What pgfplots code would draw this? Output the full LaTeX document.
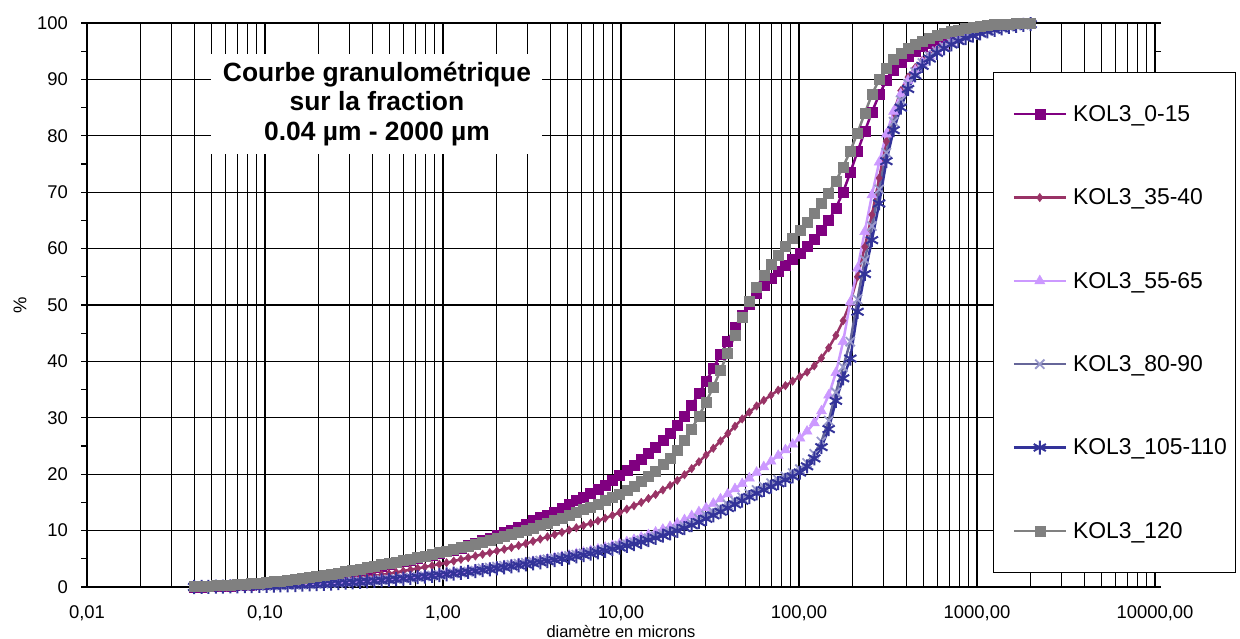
\documentclass[border=0pt]{standalone}
\usepackage{fontspec}
\setmainfont{Liberation Sans}
\usepackage{pgfplots}
\usepackage{pgfplotstable}
\pgfplotsset{compat=1.18}
\definecolor{c1}{HTML}{800080}
\definecolor{c2}{HTML}{993366}
\definecolor{c3}{HTML}{CC99FF}
\definecolor{c4}{HTML}{666699}
\definecolor{c4m}{HTML}{9999CC}
\definecolor{c5}{HTML}{333399}
\definecolor{c6}{HTML}{808080}

\pgfplotstableread{
x P M L X B G
0.040 0.00 0.00 0.00 0.05 0.00 0.10
0.044 0.03 0.02 0.02 0.07 0.02 0.15
0.048 0.06 0.04 0.04 0.09 0.04 0.20
0.053 0.09 0.07 0.06 0.11 0.06 0.26
0.058 0.13 0.10 0.08 0.13 0.08 0.32
0.064 0.18 0.13 0.10 0.15 0.10 0.39
0.070 0.24 0.16 0.12 0.17 0.12 0.46
0.077 0.31 0.20 0.14 0.19 0.14 0.54
0.084 0.38 0.23 0.16 0.21 0.16 0.62
0.093 0.47 0.27 0.18 0.23 0.18 0.72
0.102 0.57 0.31 0.21 0.25 0.20 0.83
0.112 0.68 0.36 0.24 0.28 0.23 0.95
0.122 0.80 0.42 0.28 0.32 0.27 1.08
0.134 0.93 0.49 0.32 0.36 0.31 1.22
0.148 1.08 0.56 0.37 0.40 0.35 1.38
0.162 1.24 0.64 0.42 0.45 0.40 1.54
0.178 1.41 0.72 0.47 0.50 0.45 1.72
0.195 1.60 0.81 0.53 0.55 0.50 1.91
0.214 1.80 0.90 0.59 0.61 0.56 2.10
0.235 2.01 1.00 0.66 0.67 0.62 2.31
0.258 2.24 1.12 0.73 0.74 0.69 2.52
0.284 2.47 1.26 0.81 0.81 0.76 2.75
0.311 2.72 1.42 0.89 0.89 0.84 2.98
0.342 2.97 1.60 0.98 0.97 0.92 3.22
0.375 3.23 1.78 1.07 1.05 1.00 3.46
0.412 3.49 1.97 1.16 1.14 1.09 3.70
0.452 3.76 2.17 1.26 1.23 1.18 3.95
0.496 4.03 2.38 1.37 1.33 1.28 4.20
0.545 4.30 2.60 1.48 1.44 1.39 4.46
0.598 4.56 2.83 1.60 1.55 1.50 4.72
0.656 4.83 3.06 1.72 1.66 1.61 4.98
0.721 5.10 3.30 1.85 1.78 1.73 5.25
0.791 5.38 3.55 1.98 1.90 1.85 5.52
0.868 5.67 3.80 2.12 2.03 1.98 5.80
0.953 5.97 4.05 2.26 2.16 2.11 6.08
1.047 6.28 4.30 2.40 2.29 2.24 6.37
1.149 6.60 4.60 2.55 2.43 2.38 6.66
1.261 6.95 4.90 2.70 2.57 2.52 6.96
1.385 7.35 5.20 2.86 2.72 2.67 7.27
1.520 7.80 5.50 3.02 2.87 2.82 7.60
1.669 8.25 5.80 3.19 3.28 2.98 7.95
1.832 8.70 6.10 3.36 3.44 3.14 8.32
2.010 9.20 6.40 3.54 3.60 3.30 8.70
2.207 9.65 6.70 3.72 3.77 3.47 9.05
2.423 10.10 7.00 3.90 3.94 3.64 9.40
2.660 10.60 7.35 4.10 4.12 3.82 9.75
2.920 11.20 7.70 4.30 4.30 4.00 10.10
3.205 11.80 8.10 4.50 4.49 4.19 10.50
3.519 12.30 8.50 4.70 4.68 4.38 10.90
3.863 12.80 8.90 4.92 4.88 4.58 11.30
4.240 13.30 9.30 5.15 5.08 4.78 11.75
4.655 13.90 9.70 5.38 5.29 4.99 12.20
5.110 14.60 10.10 5.62 5.50 5.20 12.70
5.610 15.30 10.50 5.87 5.72 5.42 13.20
6.158 16.00 10.90 6.13 5.95 5.65 13.70
6.760 16.60 11.30 6.40 6.20 5.90 14.20
7.421 17.30 11.75 6.70 6.45 6.15 14.75
8.147 18.00 12.20 7.00 6.72 6.42 15.30
8.944 18.90 12.70 7.30 7.00 6.70 15.90
9.819 19.80 13.20 7.65 7.30 7.00 16.50
10.78 20.70 13.80 8.00 7.60 7.30 17.20
11.83 21.60 14.40 8.40 7.92 7.62 17.90
12.99 22.60 15.00 8.80 8.26 7.96 18.70
14.26 23.70 15.70 9.25 8.62 8.32 19.60
15.65 24.80 16.40 9.70 9.00 8.70 20.60
17.18 26.00 17.20 10.20 9.40 9.10 21.70
18.86 27.30 18.00 10.70 9.82 9.52 22.90
20.71 28.70 18.90 11.30 10.27 9.97 24.30
22.73 30.30 19.90 11.90 10.75 10.45 26.00
24.95 32.20 21.00 12.60 11.25 10.95 28.00
27.39 34.30 22.20 13.30 12.10 11.50 30.30
30.07 36.50 23.40 14.00 12.70 12.10 32.80
33.01 38.80 24.60 14.80 13.30 12.70 35.50
36.24 41.20 25.90 15.60 13.95 13.35 38.40
39.78 43.60 27.20 16.50 14.60 14.00 41.50
43.67 46.00 28.50 17.40 15.25 14.65 44.70
47.94 48.20 29.80 18.30 15.90 15.30 47.80
52.62 50.20 31.00 19.30 16.55 15.95 50.60
57.77 52.00 32.10 20.30 17.20 16.60 53.10
63.41 53.50 33.10 21.30 17.80 17.20 55.30
69.61 54.80 34.00 22.30 18.40 17.80 57.20
76.42 55.90 34.90 23.30 19.00 18.40 58.90
83.89 57.00 35.70 24.30 19.60 19.00 60.40
92.09 58.10 36.50 25.30 20.20 19.60 61.80
101.1 59.20 37.30 26.40 20.90 20.30 63.20
111.0 60.40 38.10 27.60 22.00 21.40 64.70
121.8 61.70 39.20 29.10 23.60 22.80 66.30
133.7 63.20 40.60 31.20 25.80 24.80 68.00
146.8 65.00 42.40 34.00 29.50 28.00 69.90
161.2 67.20 44.60 38.00 34.50 33.00 72.00
176.9 70.00 47.20 43.50 39.00 37.00 74.50
194.2 73.50 50.50 50.50 43.50 40.50 77.30
213.2 77.20 55.00 56.50 51.00 48.80 80.50
234.1 80.80 60.30 63.00 58.00 55.50 84.00
256.9 84.20 66.00 69.50 64.00 61.50 87.30
282.1 87.30 72.50 75.30 70.50 68.00 90.00
309.6 89.80 79.00 80.30 77.00 75.50 92.00
339.9 91.60 84.20 84.30 82.50 81.00 93.50
373.1 93.00 88.00 87.40 86.30 85.00 94.60
409.6 94.10 90.40 89.80 89.20 88.30 95.50
449.7 95.00 92.10 91.60 91.30 90.70 96.20
493.6 95.80 93.40 93.00 92.90 92.40 96.80
541.9 96.40 94.40 94.10 94.10 93.70 97.30
594.9 97.00 95.30 95.00 95.00 94.70 97.80
653.0 97.50 96.00 95.80 95.80 95.50 98.20
716.9 97.90 96.60 96.50 96.50 96.20 98.50
786.9 98.30 97.20 97.10 97.00 96.80 98.80
863.9 98.70 97.70 97.60 97.50 97.30 99.05
948.3 99.00 98.10 98.00 97.90 97.75 99.25
1041 99.25 98.50 98.40 98.30 98.15 99.45
1143 99.45 98.85 98.80 98.60 98.50 99.60
1255 99.60 99.15 99.10 98.90 98.80 99.70
1377 99.70 99.40 99.35 99.15 99.05 99.80
1512 99.80 99.60 99.55 99.35 99.30 99.85
1660 99.90 99.75 99.70 99.55 99.50 99.90
1822 99.95 99.90 99.85 99.70 99.65 99.95
2000 100.00 100.00 99.95 99.85 99.80 100.00
}\data

\begin{document}
\begin{tikzpicture}
\begin{axis}[
  at={(0bp,0bp)}, anchor=south west,
  width=1068bp, height=564bp, scale only axis,
  xmode=log, log basis x=10,
  xmin=0.01, xmax=10000, ymin=0, ymax=100,
  xtick={0.01,0.1,1,10,100,1000,10000},
  xticklabels={{0,01},{0,10},{1,00},{10,00},{100,00},{1000,00},{10000,00}},
  minor xtick={0.02,0.03,0.04,0.05,0.06,0.07,0.08,0.09,
               0.2,0.3,0.4,0.5,0.6,0.7,0.8,0.9,
               2,3,4,5,6,7,8,9,
               20,30,40,50,60,70,80,90,
               200,300,400,500,600,700,800,900,
               2000,3000,4000,5000,6000,7000,8000,9000},
  ytick={0,10,...,100},
  minor ytick={5,15,...,95},
  xmajorgrids, xminorgrids, ymajorgrids,
  major grid style={black, line width=1.1bp},
  minor grid style={black, line width=1.1bp},
  axis line style={black, line width=1.1bp},
  xtick style={draw=none},
  ytick style={black, line width=1.1bp},
  tick align=outside,
  major tick length=6bp, minor tick length=6bp,
  /pgf/number format/assume math mode=true,
  tick label style={font=\fontsize{18.5}{22}\selectfont, black},
  xticklabel style={anchor=north, inner sep=0pt, yshift=-12bp},
  yticklabel style={anchor=east, inner sep=0pt, xshift=-13bp},
  xlabel={diamètre en microns},
  ylabel={\%},
  xlabel style={font=\fontsize{16.5}{19}\selectfont, at={(axis description cs:0.5,0)}, anchor=north, inner sep=0pt, yshift=-38bp},
  ylabel style={font=\fontsize{18.5}{22}\selectfont, at={(axis description cs:-0.0627,0.5)}, anchor=center, inner sep=0pt},
  legend style={at={(axis description cs:0.8483,0.9131)}, anchor=north west,
    draw=black, line width=1.1bp, fill=white, inner xsep=3bp, inner ysep=0bp,
    row sep=0bp, column sep=0bp,
    font=\fontsize{23}{27}\selectfont,
    nodes={minimum height=83.33bp, inner xsep=6bp, inner ysep=0bp}},
  legend cell align=left,
  legend image code/.code={
    \path (0bp,0bp) (68bp,0bp);
    \draw[mark repeat=2, mark phase=2, #1] plot coordinates {(16bp,0bp) (42bp,0bp) (68bp,0bp)};
  },
]
\addplot[c1, line width=2.5bp, mark=square*, mark size=5bp, mark options={solid, fill=c1, draw=c1, line width=0.5bp}] table[x=x, y=P] {\data};
\addlegendentry{KOL3\_0-15}
\addplot[c2, line width=2.5bp, mark=diamond*, mark size=4.2bp, mark options={solid, fill=c2, draw=c2, line width=0.5bp}] table[x=x, y=M] {\data};
\addlegendentry{KOL3\_35-40}
\addplot[c3, line width=2.5bp, mark=triangle*, mark size=5.8bp, mark options={solid, fill=c3, draw=c3, line width=0.5bp}] table[x=x, y=L] {\data};
\addlegendentry{KOL3\_55-65}
\addplot[c4, line width=2.5bp, mark=x, mark size=6.5bp, mark options={solid, draw=c4m, line width=1.8bp}] table[x=x, y=X] {\data};
\addlegendentry{KOL3\_80-90}
\addplot[c5, line width=2.5bp, mark=asterisk, mark size=7bp, mark options={solid, draw=c5, line width=2bp}] table[x=x, y=B] {\data};
\addlegendentry{KOL3\_105-110}
\addplot[c6, line width=2.5bp, mark=square*, mark size=5bp, mark options={solid, fill=c6, draw=c6, line width=0.5bp}] table[x=x, y=G] {\data};
\addlegendentry{KOL3\_120}
\node[fill=white, inner sep=0pt, minimum width=331bp, minimum height=100bp, align=center,
      font=\bfseries\fontsize{26.5}{30}\selectfont] at (rel axis cs:0.2715,0.8564)
  {Courbe granulométrique\\sur la fraction\\0.04 µm - 2000 µm};
\end{axis}
\pgfresetboundingbox
\path[use as bounding box] (-87bp,-52bp) rectangle (1153bp,587bp);
\end{tikzpicture}
\end{document}
